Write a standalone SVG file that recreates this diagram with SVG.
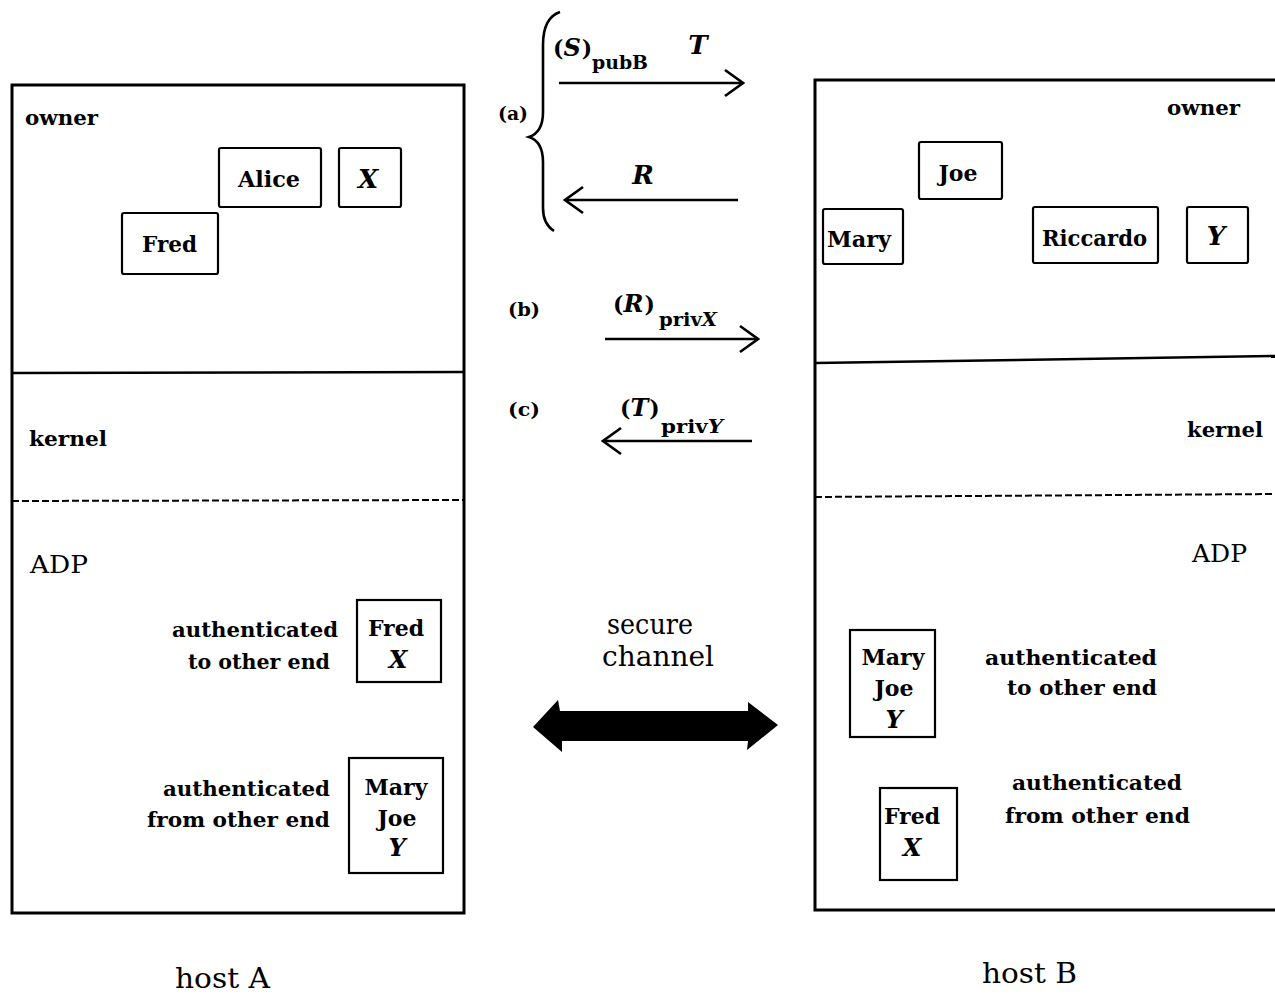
<svg xmlns="http://www.w3.org/2000/svg" width="1275" height="995" viewBox="0 0 1275 995">
<style>
.b{font-family:"DejaVu Serif","Liberation Serif",serif;font-weight:bold;fill:#000}
.r{font-family:"DejaVu Serif","Liberation Serif",serif;font-weight:normal;fill:#000}
.i{font-style:italic}
.f20{font-size:20px}
.f22{font-size:22px}
.f18{font-size:18px}
.f26{font-size:26px}
.box{fill:#fff;stroke:#000;stroke-width:2.2}
.host{fill:none;stroke:#000;stroke-width:3}
.div{stroke:#000;stroke-width:2.5}
.dash{stroke:#000;stroke-width:2;stroke-dasharray:7 3}
.arr{stroke:#000;stroke-width:2.5;fill:none;marker-end:url(#chev)}
</style>
<defs>
<marker id="chev" viewBox="0 0 22 30" refX="20" refY="15" markerWidth="22" markerHeight="30" markerUnits="userSpaceOnUse" orient="auto">
<path d="M2,2 L20,15 L2,28" fill="none" stroke="#000" stroke-width="2.6"/>
</marker>
</defs>
<rect width="1275" height="995" fill="#fff"/>

<g id="hostA">
<rect class="host" x="12" y="85" width="452" height="828"/>
<line class="div" x1="12" y1="373" x2="464" y2="372"/>
<line class="dash" x1="12" y1="501" x2="464" y2="500"/>
<text class="b f20" x="25" y="125" textLength="73" lengthAdjust="spacingAndGlyphs">owner</text>
<text class="b f20" x="29" y="446" textLength="78" lengthAdjust="spacingAndGlyphs">kernel</text>
<text class="r" font-size="24" x="30" y="573" textLength="58" lengthAdjust="spacingAndGlyphs">ADP</text>
<text class="r" font-size="28" x="175" y="988" textLength="95" lengthAdjust="spacingAndGlyphs">host A</text>
</g>

<g id="hostA-alice">
<rect class="box" x="219" y="148" width="102" height="59" rx="2"/>
<text class="b f22" x="238" y="187" textLength="62" lengthAdjust="spacingAndGlyphs">Alice</text>
</g>
<g id="hostA-X">
<rect class="box" x="339" y="148" width="62" height="59" rx="2"/>
<text class="b i f26" x="368" y="188" text-anchor="middle">X</text>
</g>
<g id="hostA-fred">
<rect class="box" x="122" y="213" width="96" height="61" rx="2"/>
<text class="b f22" x="142" y="252" textLength="55" lengthAdjust="spacingAndGlyphs">Fred</text>
</g>
<g id="hostA-to">
<text class="b f20" x="172" y="637" textLength="166" lengthAdjust="spacingAndGlyphs">authenticated</text>
<text class="b f20" x="188" y="669" textLength="142" lengthAdjust="spacingAndGlyphs">to other end</text>
<rect class="box" x="357" y="600" width="84" height="82"/>
<text class="b f22" x="396" y="636" text-anchor="middle">Fred</text>
<text class="b i" font-size="24" x="398" y="668" text-anchor="middle">X</text>
</g>
<g id="hostA-from">
<text class="b f20" x="163" y="796" textLength="167" lengthAdjust="spacingAndGlyphs">authenticated</text>
<text class="b f20" x="147" y="827" textLength="183" lengthAdjust="spacingAndGlyphs">from other end</text>
<rect class="box" x="349" y="758" width="94" height="115"/>
<text class="b f22" x="396" y="795" text-anchor="middle">Mary</text>
<text class="b f22" x="397" y="826" text-anchor="middle">Joe</text>
<text class="b i" font-size="24" x="397" y="856" text-anchor="middle">Y</text>
</g>

<g id="hostB">
<path class="host" d="M1275,80 L815,80 L815,910 L1275,910"/>
<line class="div" x1="815" y1="363" x2="1275" y2="356"/>
<line class="dash" x1="815" y1="497" x2="1275" y2="494"/>
<text class="b f20" x="1167" y="115" textLength="73" lengthAdjust="spacingAndGlyphs">owner</text>
<text class="b f20" x="1187" y="437" textLength="76" lengthAdjust="spacingAndGlyphs">kernel</text>
<text class="r" font-size="24" x="1192" y="562" textLength="55" lengthAdjust="spacingAndGlyphs">ADP</text>
<text class="r" font-size="28" x="982" y="983" textLength="95" lengthAdjust="spacingAndGlyphs">host B</text>
</g>

<g id="hostB-joe">
<rect class="box" x="919" y="142" width="83" height="57" rx="2"/>
<text class="b f22" x="958" y="181" text-anchor="middle">Joe</text>
</g>
<g id="hostB-mary">
<rect class="box" x="823" y="209" width="80" height="55" rx="2"/>
<text class="b f22" x="827" y="247" textLength="64" lengthAdjust="spacingAndGlyphs">Mary</text>
</g>
<g id="hostB-riccardo">
<rect class="box" x="1033" y="207" width="125" height="56" rx="2"/>
<text class="b f22" x="1042" y="246" textLength="105" lengthAdjust="spacingAndGlyphs">Riccardo</text>
</g>
<g id="hostB-Y">
<rect class="box" x="1187" y="207" width="61" height="56" rx="2"/>
<text class="b i f26" x="1216" y="245" text-anchor="middle">Y</text>
</g>
<g id="hostB-to">
<rect class="box" x="850" y="630" width="85" height="107"/>
<text class="b f22" x="893" y="665" text-anchor="middle">Mary</text>
<text class="b f22" x="894" y="696" text-anchor="middle">Joe</text>
<text class="b i" font-size="24" x="894" y="728" text-anchor="middle">Y</text>
<text class="b f20" x="985" y="665" textLength="172" lengthAdjust="spacingAndGlyphs">authenticated</text>
<text class="b f20" x="1007" y="695" textLength="150" lengthAdjust="spacingAndGlyphs">to other end</text>
</g>
<g id="hostB-from">
<rect class="box" x="880" y="788" width="77" height="92"/>
<text class="b f22" x="912" y="824" text-anchor="middle">Fred</text>
<text class="b i" font-size="24" x="912" y="856" text-anchor="middle">X</text>
<text class="b f20" x="1012" y="790" textLength="170" lengthAdjust="spacingAndGlyphs">authenticated</text>
<text class="b f20" x="1005" y="823" textLength="185" lengthAdjust="spacingAndGlyphs">from other end</text>
</g>

<g id="labels">
<text class="b f18" x="498" y="120" textLength="30" lengthAdjust="spacingAndGlyphs">(a)</text>
<text class="b f18" x="508" y="316" textLength="32" lengthAdjust="spacingAndGlyphs">(b)</text>
<text class="b f18" x="508" y="416" textLength="32" lengthAdjust="spacingAndGlyphs">(c)</text>
<text class="b f22" x="553" y="56">(<tspan class="i" font-size="24">S</tspan><tspan dx="1">)</tspan></text>
<text class="b f18" x="592" y="69" textLength="56" lengthAdjust="spacingAndGlyphs">pubB</text>
<text class="b i f26" x="698" y="54" text-anchor="middle">T</text>
<text class="b i f26" x="643" y="184" text-anchor="middle">R</text>
<text class="b f22" x="613" y="312">(<tspan class="i" font-size="24">R</tspan><tspan dx="1">)</tspan></text>
<text class="b f18" x="659" y="326" textLength="58" lengthAdjust="spacingAndGlyphs">priv<tspan class="i">X</tspan></text>
<text class="b f22" x="620" y="416">(<tspan class="i" font-size="24">T</tspan><tspan dx="1">)</tspan></text>
<text class="b f18" x="661" y="433" textLength="62" lengthAdjust="spacingAndGlyphs">priv<tspan class="i">Y</tspan></text>
<text class="r" font-size="27" x="607" y="634" textLength="86" lengthAdjust="spacingAndGlyphs">secure</text>
<text class="r" font-size="27" x="602" y="666" textLength="112" lengthAdjust="spacingAndGlyphs">channel</text>
</g>

<g id="connectors">
<path d="M560,12 C548,16 543,28 543,45 L543,112 C543,126 538,134 529,137 C538,140 543,148 543,162 L543,208 C543,219 546,226 554,231" fill="none" stroke="#000" stroke-width="2.6"/>
<line class="arr" x1="559" y1="83" x2="743" y2="83"/>
<line class="arr" x1="738" y1="200" x2="565" y2="200"/>
<line class="arr" x1="605" y1="339" x2="758" y2="339"/>
<line class="arr" x1="752" y1="441" x2="603" y2="441"/>
<polygon points="533,727 558,700 560,711 748,711 748,702 778,725 747,750 748,741 562,741 562,752" fill="#000"/>
</g>
</svg>
